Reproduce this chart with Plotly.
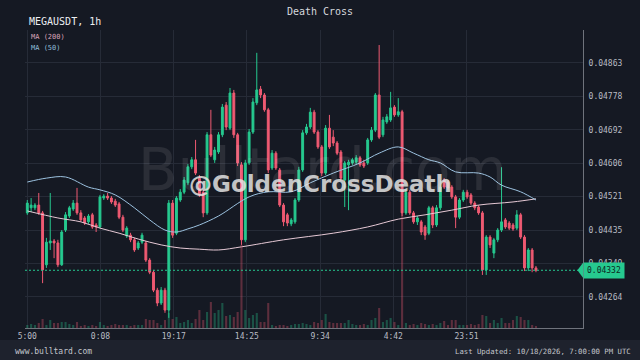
import plotly.graph_objects as go

# ---------------- data ----------------
open_ = [0.04479,0.04492,0.04492,0.04499,0.04479,0.04346,0.04402,0.04407,0.04402,0.04346,
         0.04435,0.04471,0.04489,0.04504,0.04479,0.04466,0.04456,0.04474,0.04448,0.04443,
         0.04517,0.04522,0.04517,0.04509,0.04502,0.04468,0.04420,0.04422,0.04410,0.04389,
         0.04404,0.04402,0.04358,0.04327,0.04281,0.04248,0.04281,0.04230,0.04504,0.04427,
         0.04512,0.04532,0.04556,0.04597,0.04615,0.04568,0.04532,0.04479,0.04679,0.04615,
         0.04635,0.04679,0.04755,0.04696,0.04786,0.04679,0.04602,0.04410,0.04607,0.04686,
         0.04761,0.04796,0.04781,0.04743,0.04594,0.04632,0.04589,0.04499,0.04474,0.04451,
         0.04456,0.04512,0.04589,0.04684,0.04699,0.04737,0.04686,0.04648,0.04581,0.04696,
         0.04673,0.04658,0.04635,0.04563,0.04602,0.04607,0.04609,0.04620,0.04607,0.04607,
         0.04666,0.04691,0.04781,0.04679,0.04712,0.04717,0.04750,0.04730,0.04738,0.04479,
         0.04532,0.04479,0.04456,0.04456,0.04443,0.04427,0.04492,0.04448,0.04492,0.04563,
         0.04558,0.04545,0.04520,0.04468,0.04512,0.04532,0.04525,0.04504,0.04494,0.04479,
         0.04333,0.04417,0.04376,0.04410,0.04435,0.04461,0.04453,0.04448,0.04440,0.04474,
         0.04417,0.04338,0.04384,0.04338]
high = [0.04512,0.04517,0.04504,0.04530,0.04484,0.04415,0.04530,0.04412,0.04410,0.04435,
        0.04481,0.04497,0.04512,0.04543,0.04486,0.04471,0.04476,0.04479,0.04453,0.04525,
        0.04527,0.04530,0.04522,0.04515,0.04507,0.04474,0.04445,0.04428,0.04415,0.04407,
        0.04428,0.04407,0.04363,0.04333,0.04287,0.04289,0.04287,0.04512,0.04512,0.04522,
        0.04540,0.04571,0.04604,0.04622,0.04666,0.04576,0.04538,0.04686,0.04743,0.04648,
        0.04686,0.04758,0.04763,0.04799,0.04794,0.04684,0.04609,0.04615,0.04694,0.04773,
        0.04889,0.04804,0.04786,0.04748,0.04640,0.04637,0.04594,0.04504,0.04479,0.04466,
        0.04517,0.04597,0.04691,0.04707,0.04748,0.04743,0.04691,0.04653,0.04704,0.04730,
        0.04691,0.04663,0.04640,0.04612,0.04615,0.04620,0.04627,0.04625,0.04615,0.04671,
        0.04699,0.04786,0.04909,0.04725,0.04732,0.04789,0.04755,0.04773,0.04743,0.04540,
        0.04538,0.04484,0.04471,0.04461,0.04448,0.04497,0.04497,0.04499,0.04563,0.04568,
        0.04563,0.04550,0.04525,0.04517,0.04538,0.04538,0.04530,0.04509,0.04499,0.04484,
        0.04422,0.04422,0.04415,0.04440,0.04596,0.04466,0.04458,0.04453,0.04486,0.04479,
        0.04422,0.04389,0.04389,0.04343]
low = [0.04474,0.04481,0.04486,0.04474,0.04299,0.04338,0.04384,0.04363,0.04340,0.04343,
       0.04430,0.04466,0.04484,0.04474,0.04456,0.04448,0.04451,0.04438,0.04430,0.04440,
       0.04512,0.04512,0.04502,0.04494,0.04463,0.04430,0.04415,0.04404,0.04379,0.04384,
       0.04399,0.04353,0.04322,0.04276,0.04240,0.04243,0.04223,0.04210,0.04415,0.04422,
       0.04507,0.04527,0.04550,0.04591,0.04576,0.04520,0.04468,0.04474,0.04622,0.04607,
       0.04630,0.04673,0.04691,0.04691,0.04671,0.04599,0.04397,0.04404,0.04602,0.04681,
       0.04755,0.04773,0.04738,0.04581,0.04589,0.04589,0.04494,0.04445,0.04445,0.04445,
       0.04451,0.04507,0.04584,0.04679,0.04694,0.04681,0.04643,0.04573,0.04576,0.04643,
       0.04650,0.04627,0.04561,0.04494,0.04486,0.04602,0.04604,0.04597,0.04594,0.04602,
       0.04661,0.04686,0.04668,0.04673,0.04707,0.04712,0.04725,0.04725,0.04471,0.04474,
       0.04474,0.04451,0.04448,0.04422,0.04410,0.04422,0.04440,0.04443,0.04486,0.04540,
       0.04538,0.04515,0.04440,0.04463,0.04507,0.04515,0.04499,0.04486,0.04474,0.04320,
       0.04320,0.04389,0.04363,0.04404,0.04430,0.04438,0.04435,0.04433,0.04435,0.04412,
       0.04330,0.04330,0.04327,0.04327]
close = [0.04504,0.04499,0.04499,0.04479,0.04333,0.04404,0.04407,0.04402,0.04346,0.04430,
         0.04474,0.04492,0.04504,0.04479,0.04461,0.04453,0.04471,0.04443,0.04443,0.04520,
         0.04522,0.04517,0.04507,0.04499,0.04468,0.04435,0.04440,0.04410,0.04384,0.04402,
         0.04422,0.04358,0.04327,0.04281,0.04248,0.04281,0.04230,0.04504,0.04422,0.04517,
         0.04532,0.04563,0.04597,0.04615,0.04581,0.04525,0.04479,0.04679,0.04627,0.04640,
         0.04679,0.04750,0.04699,0.04786,0.04679,0.04607,0.04410,0.04607,0.04686,0.04763,
         0.04794,0.04781,0.04743,0.04589,0.04632,0.04594,0.04499,0.04456,0.04453,0.04461,
         0.04512,0.04589,0.04684,0.04699,0.04737,0.04686,0.04648,0.04581,0.04696,0.04648,
         0.04658,0.04632,0.04568,0.04607,0.04609,0.04615,0.04620,0.04602,0.04599,0.04666,
         0.04691,0.04781,0.04673,0.04717,0.04725,0.04748,0.04730,0.04738,0.04479,0.04532,
         0.04479,0.04456,0.04466,0.04430,0.04422,0.04492,0.04448,0.04492,0.04545,0.04545,
         0.04543,0.04520,0.04468,0.04512,0.04532,0.04520,0.04504,0.04492,0.04479,0.04333,
         0.04417,0.04397,0.04410,0.04435,0.04456,0.04443,0.04440,0.04438,0.04474,0.04417,
         0.04338,0.04384,0.04338,0.04332]
volume = [3,4,3,5,9,3,8,5,5,6,6,4,3,6,2,3,2,3,2,6,
          3,2,3,4,3,3,3,2,3,3,3,9,8,8,5,3,8,15,9,11,
          5,6,8,5,9,18,8,16,26,15,18,25,12,13,11,16,83,18,10,13,
          15,6,6,25,3,2,3,3,2,3,4,4,5,4,3,6,5,8,14,6,
          5,5,5,5,8,4,3,3,4,3,8,10,20,6,8,10,6,3,115,5,
          3,4,3,5,4,3,4,3,5,7,3,8,8,3,3,3,4,3,4,13,
          12,5,8,5,10,5,5,8,12,11,8,8,3,2]

ma50_idx = [0,5,10,16,19,23,28,32,36,39,42,45,50,58,63,69,74,80,87,92,97,101,105,108,112,118,121,124,129,133]
ma50 = [0.04558,0.04568,0.04571,0.04545,0.04538,0.04525,0.04492,0.04461,0.04435,0.04430,
        0.04438,0.04448,0.04471,0.04520,0.04533,0.04533,0.04556,0.04581,0.04607,0.04632,
        0.04648,0.04632,0.04615,0.04607,0.04584,0.04581,0.04571,0.04550,0.04533,0.04512]
ma200_idx = [0,8,14,19,24,29,35,40,45,50,56,67,80,89,97,104,111,118,127,133]
ma200 = [0.04484,0.04466,0.04456,0.04440,0.04427,0.04412,0.04397,0.04389,0.04386,0.04384,
         0.04392,0.04410,0.04427,0.04443,0.04463,0.04474,0.04486,0.04499,0.04507,0.04515]

time_labels = ["5:00", "0:08", "19:17", "14:25", "9:34", "4:42", "23:51"]
price_ticks = [0.04863, 0.04778, 0.04692, 0.04606, 0.04521, 0.04435, 0.04349, 0.04264]
last_price = 0.04332

title = "Death Cross"
symbol = "MEGAUSDT, 1h"

# ---------------- derived ----------------
hours = list(range(len(close)))

def elapsed_hours(labels):
    out, prev, total = [], None, 0
    for lab in labels:
        h, m = map(int, lab.split(":"))
        mins = h * 60 + m
        if prev is not None:
            total += (mins - prev) % 1440
        prev = mins
        out.append(total / 60.0)
    return out

tick_pos = elapsed_hours(time_labels)

GREEN = "#26c98f"
RED = "#ef5a72"
BG = "#151923"
GRID = "#262b37"
AXIS = "#6f737c"
TXT = "#b9bcc3"
MONO = "DejaVu Sans Mono"

vol_colors = ["rgba(38,201,143,0.33)" if c >= o else "rgba(239,90,114,0.33)"
              for o, c in zip(open_, close)]

fig = go.Figure()
fig.add_trace(go.Bar(x=hours, y=volume, yaxis="y2", width=0.55,
                     marker=dict(color=vol_colors, line=dict(width=0)),
                     hoverinfo="skip"))
fig.add_trace(go.Candlestick(
    x=hours, open=open_, high=high, low=low, close=close,
    increasing=dict(line=dict(color=GREEN, width=1), fillcolor=GREEN),
    decreasing=dict(line=dict(color=RED, width=1), fillcolor=RED),
    whiskerwidth=0))
fig.add_trace(go.Scatter(x=ma200_idx, y=ma200, mode="lines",
                         line=dict(color="#e6c9d5", width=1, shape="spline")))
fig.add_trace(go.Scatter(x=ma50_idx, y=ma50, mode="lines",
                         line=dict(color="#9cc2e0", width=1, shape="spline")))

fig.update_layout(
    width=640, height=360,
    margin=dict(l=25, r=57, t=30, b=32),
    paper_bgcolor=BG, plot_bgcolor=BG,
    showlegend=False,
    title=dict(text=title, x=0.5, xref="container", y=0.967, yref="container",
               xanchor="center", yanchor="middle",
               font=dict(family=MONO, size=10, color="#d5d8de")),
    xaxis=dict(range=[-0.6, 145.3], tickvals=tick_pos, ticktext=time_labels,
               showgrid=True, gridcolor=GRID, gridwidth=1, zeroline=False,
               showline=True, linecolor=AXIS, linewidth=1, ticks="",
               tickfont=dict(family=MONO, size=8, color=TXT),
               rangeslider=dict(visible=False), fixedrange=True),
    yaxis=dict(side="right", range=[0.041841, 0.049475], tickvals=price_ticks,
               ticktext=[f"{v:.5f}" for v in price_ticks],
               showgrid=True, gridcolor=GRID, gridwidth=1, zeroline=False,
               showline=True, linecolor=AXIS, linewidth=1, ticks="",
               ticklabelstandoff=3,
               tickfont=dict(family=MONO, size=8, color=TXT)),
    yaxis2=dict(overlaying="y", range=[0, 298], visible=False),
)

# last price line + label
fig.add_shape(type="line", xref="paper", x0=0, x1=1, yref="y", y0=last_price, y1=last_price,
              line=dict(color=GREEN, width=1, dash="2px,2px"))
fig.add_shape(type="path", xref="paper", yref="y",
              path=f"M 1.0,{last_price + 0.00019} L 0.990,{last_price} L 1.0,{last_price - 0.00019} Z",
              fillcolor=GREEN, line=dict(width=0))
fig.add_annotation(xref="paper", x=1.0, xanchor="left", yref="y", y=last_price, yanchor="middle",
                   text=f"{last_price:.5f}", showarrow=False, bgcolor=GREEN, borderpad=3,
                   font=dict(family=MONO, size=8, color="#0c2a1f"))

# header texts
fig.add_annotation(xref="paper", x=0.0036, xanchor="left", yref="paper", y=1.027, yanchor="middle",
                   text=symbol, showarrow=False, font=dict(family=MONO, size=10, color="#eceef2"))
fig.add_annotation(xref="paper", x=0.007, xanchor="left", yref="paper", y=0.9765, yanchor="middle",
                   text="MA (200)", showarrow=False, font=dict(family=MONO, size=7, color="#d9a3b8"))
fig.add_annotation(xref="paper", x=0.007, xanchor="left", yref="paper", y=0.9396, yanchor="middle",
                   text="MA (50)", showarrow=False, font=dict(family=MONO, size=7, color="#8fbcd8"))

# watermarks
fig.add_annotation(xref="paper", x=0.534, yref="paper", y=0.530, text="Bulltard.com",
                   showarrow=False, font=dict(family="DejaVu Sans", size=58,
                                              color="rgba(255,255,255,0.095)"))
fig.add_annotation(xref="paper", x=0.5287, yref="paper", y=0.483, text="<b>@GoldenCrossDeath</b>",
                   showarrow=False, font=dict(family="DejaVu Sans", size=23,
                                              color="rgba(228,228,228,0.85)"))

# footer
fig.add_shape(type="rect", xref="paper", yref="paper", x0=-0.05, x1=1.11, y0=-0.11, y1=-0.040,
              fillcolor="#1e222d", line=dict(width=0), layer="below")
fig.add_annotation(xref="paper", x=-0.0215, xanchor="left", yref="paper", y=-0.0772, yanchor="middle",
                   text="www.bulltard.com", showarrow=False,
                   font=dict(family=MONO, size=8, color="#c3c6cc"))
fig.add_annotation(xref="paper", x=1.0896, xanchor="right", yref="paper", y=-0.0772, yanchor="middle",
                   text="Last Updated: 10/18/2026, 7:00:00 PM UTC", showarrow=False,
                   font=dict(family=MONO, size=7.3, color="#c3c6cc"))

fig.write_html("out.html")
